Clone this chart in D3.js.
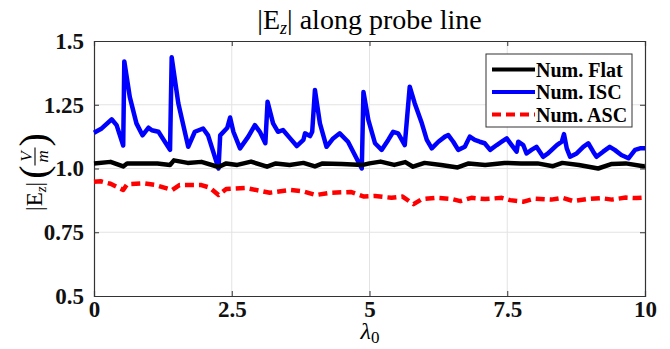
<!DOCTYPE html>
<html>
    <head>
        <meta charset="UTF-8">
        <script src="https://d3js.org/d3.v7.min.js"></script>

        <style>
            body {
                margin: 0;
                background: white;
                font-family: "Liberation Serif", "Times New Roman", serif;
            }

            .grid line {
                stroke: #e3e3e3;
                stroke-width: 1px;
            }

            .series {
                fill: none;
                stroke-width: 4.5px;
                stroke-linejoin: round;
            }

            .legend-text {
                font-weight: bold;
                font-size: 20px;
            }
        </style>
    </head>
    <body>
        <svg></svg>

        <script>

            // x ticks and y ticks
            const xTicks = [0, 2.5, 5, 7.5, 10];
            const xTickLabels = ["0", "2.5", "5", "7.5", "10"];
            const yTicks = [0.5, 0.75, 1.0, 1.25, 1.5];
            const yTickLabels = ["0.5", "0.75", "1.0", "1.25", "1.5"];

            const seriesNames = ["Num. Flat", "Num. ISC", "Num. ASC"];

            // Num. Flat
            const flatX = [0, 0.3, 0.53, 0.6, 0.9, 1.15, 1.38, 1.45, 1.7, 1.95, 2.26, 2.4, 2.6, 2.85, 3.14, 3.3, 3.55, 3.8, 4.01, 4.15, 4.5, 4.88, 5.0, 5.2, 5.45, 5.65, 5.79, 6.0, 6.3, 6.6, 6.8, 7.1, 7.45, 7.75, 8.05, 8.33, 8.5, 8.8, 9.15, 9.4, 9.65, 9.97, 10];
            const flatY = [1.02, 1.026, 1.008, 1.02, 1.02, 1.02, 1.014, 1.032, 1.022, 1.026, 1.006, 1.02, 1.014, 1.027, 1.007, 1.02, 1.014, 1.022, 1.008, 1.02, 1.018, 1.014, 1.02, 1.027, 1.014, 1.025, 1.007, 1.022, 1.014, 1.004, 1.02, 1.014, 1.022, 1.02, 1.02, 1.009, 1.022, 1.014, 1.0, 1.018, 1.02, 1.009, 1.01];

            // Num. ISC
            const iscX = [0, 0.14, 0.32, 0.41, 0.53, 0.55, 0.65, 0.77, 0.88, 0.99, 1.05, 1.17, 1.38, 1.41, 1.53, 1.71, 1.83, 1.98, 2.07, 2.26, 2.29, 2.42, 2.47, 2.53, 2.65, 2.8, 2.92, 3.01, 3.11, 3.15, 3.25, 3.34, 3.43, 3.56, 3.68, 3.8, 3.83, 3.92, 3.96, 4.01, 4.1, 4.22, 4.34, 4.46, 4.61, 4.86, 4.89, 4.98, 5.1, 5.22, 5.34, 5.43, 5.52, 5.64, 5.73, 5.82, 5.95, 6.04, 6.13, 6.25, 6.37, 6.43, 6.52, 6.61, 6.73, 6.82, 6.91, 7.0, 7.09, 7.19, 7.31, 7.4, 7.49, 7.58, 7.67, 7.7, 7.79, 7.85, 7.94, 8.03, 8.15, 8.24, 8.4, 8.49, 8.53, 8.58, 8.64, 8.76, 8.88, 8.97, 9.06, 9.12, 9.24, 9.36, 9.45, 9.57, 9.7, 9.82, 9.91, 10];
            const iscY = [1.14, 1.157, 1.193, 1.17, 1.09, 1.42, 1.28, 1.177, 1.13, 1.16, 1.15, 1.144, 1.073, 1.436, 1.256, 1.085, 1.144, 1.157, 1.13, 1.0, 1.13, 1.16, 1.2, 1.144, 1.079, 1.125, 1.17, 1.144, 1.099, 1.262, 1.177, 1.144, 1.151, 1.118, 1.088, 1.112, 1.138, 1.127, 1.144, 1.308, 1.177, 1.085, 1.118, 1.138, 1.105, 1.0, 1.3, 1.19, 1.099, 1.073, 1.112, 1.144, 1.138, 1.092, 1.321, 1.256, 1.177, 1.112, 1.079, 1.105, 1.125, 1.131, 1.105, 1.073, 1.085, 1.125, 1.112, 1.105, 1.099, 1.073, 1.092, 1.105, 1.118, 1.092, 1.066, 1.105, 1.092, 1.059, 1.073, 1.085, 1.046, 1.059, 1.092, 1.105, 1.135, 1.079, 1.046, 1.059, 1.085, 1.099, 1.066, 1.046, 1.066, 1.085, 1.073, 1.053, 1.04, 1.073, 1.079, 1.079];

            // Num. ASC
            const ascX = [0, 0.12, 0.3, 0.53, 0.6, 0.9, 1.1, 1.42, 1.55, 1.95, 2.1, 2.26, 2.4, 2.75, 3.19, 3.55, 3.8, 4.03, 4.3, 4.66, 4.9, 5.1, 5.4, 5.6, 5.8, 5.95, 6.2, 6.5, 6.65, 6.85, 7.1, 7.4, 7.55, 7.8, 8.0, 8.3, 8.5, 8.7, 8.95, 9.2, 9.4, 9.65, 9.85, 10];
            const ascY = [0.948, 0.95, 0.94, 0.916, 0.938, 0.942, 0.936, 0.916, 0.935, 0.935, 0.925, 0.896, 0.92, 0.924, 0.905, 0.916, 0.91, 0.896, 0.905, 0.908, 0.89, 0.892, 0.885, 0.89, 0.86, 0.88, 0.885, 0.88, 0.872, 0.885, 0.88, 0.885, 0.876, 0.87, 0.882, 0.878, 0.885, 0.872, 0.88, 0.884, 0.878, 0.886, 0.884, 0.886];

            const width = 670,
                height = 349;
            const margin = {left: 94, right: 25, top: 41, bottom: 53};

            const svg = d3.select("svg")
                .attr("width", width)
                .attr("height", height);

            const x = d3.scaleLinear()
                .domain([0, 10])
                .range([margin.left, width - margin.right]);

            const y = d3.scaleLinear()
                .domain([0.5, 1.5])
                .range([height - margin.bottom, margin.top]);

            // grid
            const grid = svg.append("g").attr("class", "grid");
            grid.selectAll(".gx")
                .data(xTicks.slice(1, -1))
                .join("line")
                    .attr("x1", d => x(d)).attr("x2", d => x(d))
                    .attr("y1", y(0.5)).attr("y2", y(1.5));
            grid.selectAll(".gy")
                .data(yTicks.slice(1, -1))
                .join("line")
                    .attr("class", "gy")
                    .attr("y1", d => y(d)).attr("y2", d => y(d))
                    .attr("x1", x(0)).attr("x2", x(10));

            // axes (MATLAB box style, ticks inside)
            const axBottom = svg.append("g")
                .attr("transform", `translate(0,${y(0.5)})`)
                .call(d3.axisBottom(x).tickValues(xTicks).tickSize(-5).tickFormat((d, i) => xTickLabels[i]).tickPadding(8));
            const axTop = svg.append("g")
                .attr("transform", `translate(0,${y(1.5)})`)
                .call(d3.axisTop(x).tickValues(xTicks).tickSize(-5).tickFormat(""));
            const axLeft = svg.append("g")
                .attr("transform", `translate(${x(0)},0)`)
                .call(d3.axisLeft(y).tickValues(yTicks).tickSize(-5).tickFormat((d, i) => yTickLabels[i]).tickPadding(10));
            const axRight = svg.append("g")
                .attr("transform", `translate(${x(10)},0)`)
                .call(d3.axisRight(y).tickValues(yTicks).tickSize(-5).tickFormat(""));

            [axBottom, axTop, axLeft, axRight].forEach(a => {
                a.attr("font-family", null).attr("font-size", null);
                a.select(".domain").attr("stroke", "#333").attr("stroke-width", 1.2);
                a.selectAll(".tick line").attr("stroke", "#333");
                a.selectAll("text")
                    .style("font-family", "'Liberation Serif', 'Times New Roman', serif")
                    .style("font-weight", "bold")
                    .style("font-size", "23px")
                    .attr("fill", "#111");
            });
            axBottom.selectAll("text").attr("dy", "0.55em");

            // lines
            const line = d3.line()
                .x(d => x(d[0]))
                .y(d => y(d[1]));

            const series = [
                {name: seriesNames[0], color: "#000000", dash: null, pts: d3.zip(flatX, flatY)},
                {name: seriesNames[1], color: "#0000ff", dash: null, pts: d3.zip(iscX, iscY)},
                {name: seriesNames[2], color: "#ff0000", dash: "9,5", pts: d3.zip(ascX, ascY)}
            ];

            // draw ISC under flat so the black line sits on top
            const order = [1, 0, 2];
            svg.append("g")
                .selectAll("path")
                .data(order.map(i => series[i]))
                .join("path")
                    .attr("class", "series")
                    .attr("stroke", d => d.color)
                    .attr("stroke-dasharray", d => d.dash)
                    .attr("d", d => line(d.pts));

            // legend
            const legend = svg.append("g").attr("transform", "translate(486,54)");
            legend.append("rect")
                .attr("width", 146)
                .attr("height", 73)
                .attr("fill", "white")
                .attr("stroke", "#333")
                .attr("stroke-width", 1);

            const rows = legend.selectAll("g.row")
                .data(series)
                .join("g")
                    .attr("class", "row")
                    .attr("transform", (d, i) => `translate(0,${15.5 + i * 22.5})`);
            rows.append("line")
                .attr("x1", 6).attr("x2", 49)
                .attr("stroke", d => d.color)
                .attr("stroke-width", 4)
                .attr("stroke-dasharray", d => d.dash);
            rows.append("text")
                .attr("class", "legend-text")
                .attr("x", 50)
                .attr("dy", "0.35em")
                .text(d => d.name);

            // title
            const title = svg.append("text")
                .attr("x", x(5))
                .attr("y", 29)
                .attr("text-anchor", "middle")
                .attr("font-size", 28);
            title.append("tspan").text("|E");
            title.append("tspan").attr("font-style", "italic").attr("font-size", 18).attr("dy", 5).text("z");
            title.append("tspan").attr("dy", -5).text("| along probe line");

            // x label
            const xl = svg.append("text")
                .attr("x", x(5) - 9)
                .attr("y", 339)
                .attr("font-size", 24);
            xl.append("tspan").attr("font-style", "italic").text("λ");
            xl.append("tspan").attr("font-size", 17).attr("dy", 4).text("0");

            // y label, built left to right then rotated
            const yl = svg.append("g");
            const ylText = yl.append("text").attr("font-size", 23);
            ylText.append("tspan").text("|E");
            ylText.append("tspan").attr("font-style", "italic").attr("font-size", 15).attr("dy", 4).text("z");
            ylText.append("tspan").attr("dy", -4).text("| ");
            const w1 = ylText.node().getComputedTextLength() + 3;
            const paren1 = yl.append("text").attr("font-size", 40).attr("x", w1).attr("y", 5).text("(");
            const pw = paren1.node().getComputedTextLength();
            const fx = w1 + pw + 9;
            yl.append("text").attr("font-size", 17).attr("font-style", "italic")
                .attr("x", fx).attr("y", -10).attr("text-anchor", "middle").text("V");
            yl.append("line").attr("x1", fx - 9).attr("x2", fx + 9)
                .attr("y1", -7).attr("y2", -7).attr("stroke", "black").attr("stroke-width", 1.1);
            yl.append("text").attr("font-size", 17).attr("font-style", "italic")
                .attr("x", fx).attr("y", 6).attr("text-anchor", "middle").text("m");
            yl.append("text").attr("font-size", 40).attr("x", fx + 10).attr("y", 5).text(")");
            const bb = yl.node().getBBox();
            yl.attr("transform", `translate(42,${172 + bb.width / 2}) rotate(-90)`);

        </script>
    </body>
</html>
